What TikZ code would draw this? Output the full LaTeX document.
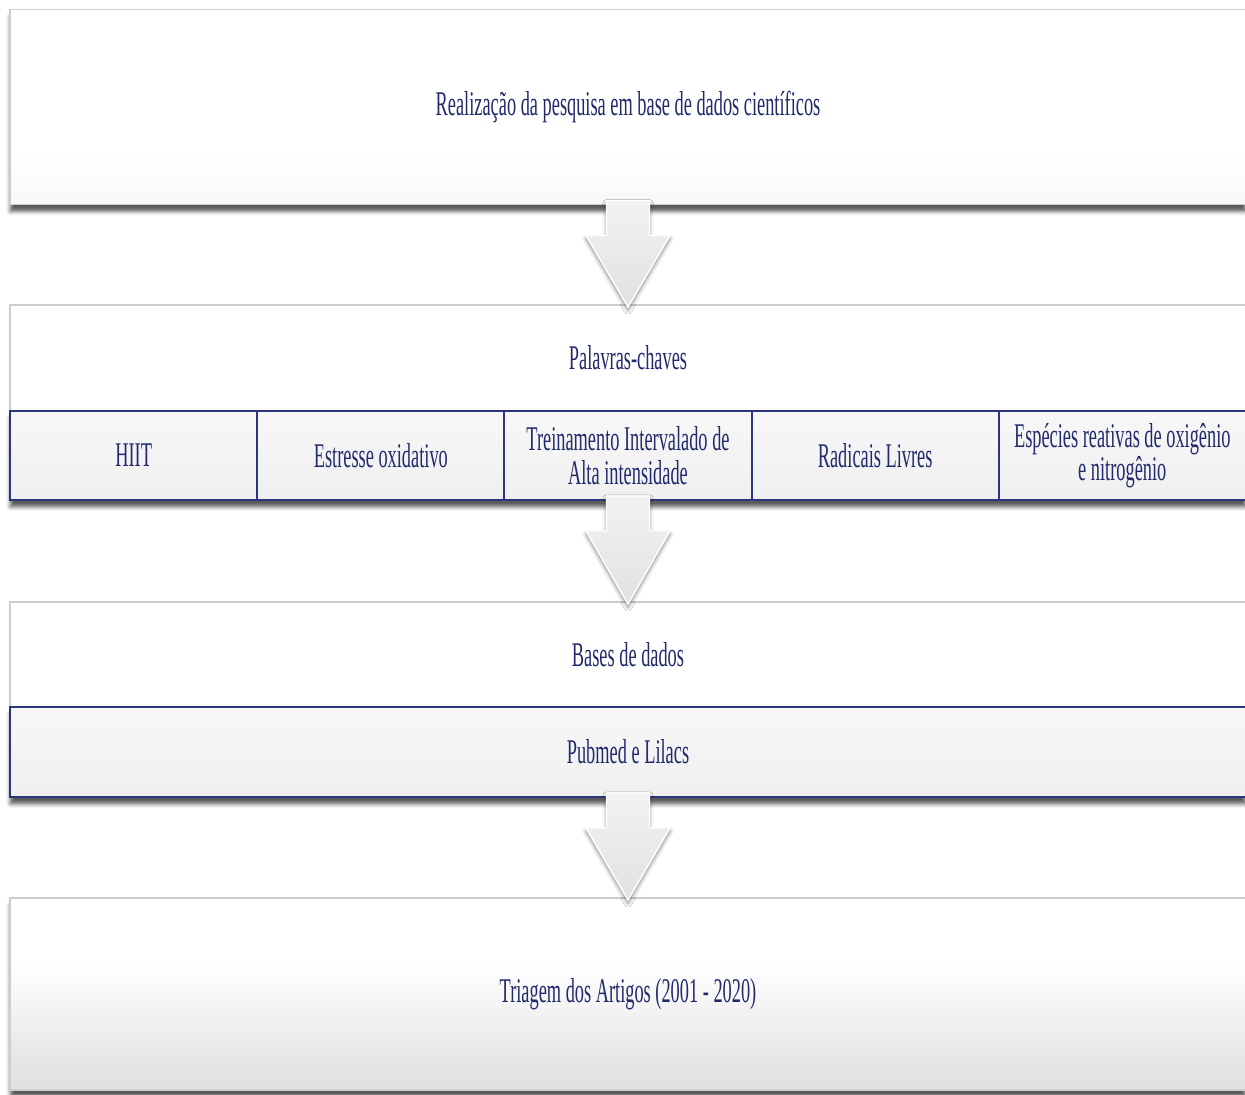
\documentclass[tikz,border=0pt]{standalone}
\usepackage{fontspec}
\usepackage{xcolor}
\usepackage{tikz}
\usetikzlibrary{positioning,calc,shadows.blur}

\newfontfamily\caixafont[FakeStretch=0.53]{Liberation Serif}
\definecolor{azultexto}{RGB}{33,43,108}
\definecolor{azulborda}{RGB}{44,54,128}
\definecolor{bordacinza}{RGB}{205,205,205}

% degrade: branco em cima, cinza so na parte de baixo
\pgfdeclareverticalshading{caixatopo}{100bp}{color(0bp)=(black!8); color(38bp)=(white); color(100bp)=(white)}
\pgfdeclareverticalshading{caixafim}{100bp}{color(0bp)=(black!13); color(30bp)=(black!11); color(58bp)=(white); color(100bp)=(white)}

% seta grossa de uma caixa para a seguinte
\newcommand{\seta}[2]{%
  \path[seta] ($(#1.south)+(-21.5,-4)$) -- ($(#1.south)+(21.5,-4)$)
    -- ($(#1.south)+(21.5,31)$) -- ($(#1.south)+(42,31)$)
    -- ($(#2.north)+(0,2)$) -- ($(#1.south)+(-42,31)$)
    -- ($(#1.south)+(-21.5,31)$) -- cycle;}

\begin{document}
\begin{tikzpicture}[
        x=0.02cm, y=-0.02cm,
        every node/.style={font=\caixafont\fontsize{19.7}{19}\selectfont, text=azultexto, align=center, outer sep=0pt, inner sep=0pt},
        sombra/.style={blur shadow={shadow xshift=0cm, shadow yshift=-0.14cm, shadow blur radius=0.08cm, shadow opacity=65}},
        caixa/.style={draw=bordacinza, line width=0.8pt, minimum width=24.72cm},
        celula/.style={draw=azulborda, line width=1.2pt, minimum width=4.944cm, minimum height=1.78cm, top color=white!97!black, bottom color=white!94!black},
        seta/.style={top color=gray!10, bottom color=gray!24, draw=white, line width=0.8pt,
            blur shadow={shadow xshift=0cm, shadow yshift=-0.06cm, shadow blur radius=0.08cm, shadow opacity=50}}
    ]
        \useasboundingbox (0,0) rectangle (1245,1095);

        % Caixa do topo
        \node[caixa, sombra, minimum height=3.9cm, shading=caixatopo] (realizacao) at (628,107) {Realização da pesquisa em base de dados científicos};

        % Palavras-chaves
        \node[caixa, fill=white, minimum height=2.12cm] (palavras) at (628,358) {Palavras-chaves};
        \path[sombra, fill=white] (palavras.south west) rectangle ($(palavras.south east)+(0,89)$);
        \node[celula, anchor=north west] (hiit) at (palavras.south west) {HIIT};
        \node[celula, right=0pt of hiit] (estresse) {Estresse oxidativo};
        \node[celula, right=0pt of estresse] (treinamento) {Treinamento Intervalado de\\Alta intensidade};
        \node[celula, right=0pt of treinamento] (radicais) {Radicais Livres};
        \node[celula, right=0pt of radicais] (especies) {Espécies reativas de oxigênio\\e nitrogênio};

        % Bases de dados
        \node[caixa, fill=white, minimum height=2.1cm] (bases) at (628,654.5) {Bases de dados};
        \node[caixa, sombra, draw=azulborda, line width=1.2pt, minimum height=1.8cm, top color=white!97!black, bottom color=white!94!black, anchor=north] (pubmed) at (bases.south) {Pubmed e Lilacs};

        % Caixa final
        \node[caixa, sombra, minimum height=3.84cm, shading=caixafim] (triagem) at (628,994) {Triagem dos Artigos (2001 - 2020)};

        % Setas
        \seta{realizacao}{palavras}
        \seta{treinamento}{bases}
        \seta{pubmed}{triagem}
    \end{tikzpicture}
\end{document}
